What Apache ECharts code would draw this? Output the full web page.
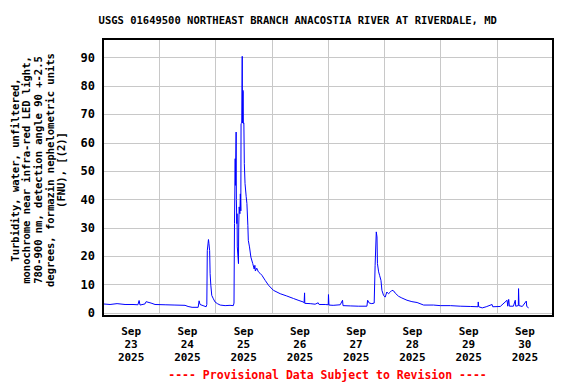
<!DOCTYPE html>
<html>
<head>
<meta charset="utf-8">
<script src="https://cdn.jsdelivr.net/npm/echarts@6/dist/echarts.min.js"></script>
<style>html,body{margin:0;padding:0;background:#fff}#c{width:576px;height:384px}</style>
</head>
<body>
<div id="c"></div>
<script>
// Hours since 2025-09-23 00:00
const hours = [
 0, 3.0, 6.0, 9.4, 12.8, 14.9, 15.4, 15.8, 17.9, 18.4, 19.2, 20.5, 22.2, 26.5, 30.7, 35.0, 36.3, 38.0, 40.6, 41.0, 41.4, 42.7, 44.0,
 44.3, 44.5, 45.0, 45.2, 45.5, 45.7, 46.0, 46.4, 47.1, 47.8, 48.8, 50.0, 52.1, 54.2, 55.6, 55.9,
 56.1, 56.4, 56.5, 56.8, 56.9, 57.1, 57.2, 57.3, 57.8, 57.9, 58.1, 58.4, 58.6, 58.8, 58.9, 59.2, 59.4, 59.5, 59.7, 59.8, 59.9, 60.1,
 60.3, 60.6, 61.1, 61.4, 61.8, 62.0, 62.5, 63.1, 63.9, 64.5, 64.8, 65.0, 65.6, 66.3, 67.0, 67.8, 69.2, 70.6, 72.7, 75.6, 78.4, 81.3,
 83.6, 85.4, 85.8, 86.0, 86.1, 88.4, 90.5, 91.8, 92.2, 94.8, 96.1, 96.2, 96.4, 98.2, 101.2, 102.2, 102.4, 105.5, 108.9, 112.6,
 112.9, 113.6, 114.7, 115.7, 116.1, 116.6, 116.9, 117.1, 117.6, 118.0, 118.6, 119.0, 119.7, 120.4, 121.1, 121.8, 122.6, 123.3, 124.0,
 124.7, 126.1, 127.5, 129.7, 131.8, 134.0, 136.8, 141.0, 143.9, 148.2, 152.4, 156.7, 160.0, 160.1, 160.3, 161.8, 163.5, 166.0, 166.3,
 169.5, 172.4, 172.7, 173.1, 173.4, 175.1, 175.9, 176.1, 177.2, 177.3, 177.5, 178.9, 180.6, 180.8, 181.6
];
// Turbidity, FNU
const turbidity = [
 3.2, 3.0, 3.3, 3.0, 3.0, 2.9, 4.4, 2.8, 3.2, 4.0, 3.8, 3.5, 3.0, 2.9, 2.8, 2.7, 2.3, 2.0, 2.0, 4.3, 3.0, 2.6, 2.2,
 3.0, 22.0, 25.9, 24.5, 22.0, 13.9, 9.8, 6.2, 5.0, 3.9, 3.3, 2.8, 2.6, 2.7, 2.6, 3.5,
 31.5, 54.4, 45.0, 63.8, 40.0, 31.5, 35.0, 23.3, 17.4, 30.0, 37.4, 35.0, 42.0, 36.0, 66.8, 67.0, 90.5, 67.0, 78.5, 78.0, 66.8, 67.0,
 52.7, 45.6, 41.0, 38.6, 30.9, 25.6, 23.3, 19.7, 17.4, 15.5, 16.8, 14.8, 15.8, 14.5, 14.0, 13.3, 11.5, 9.8, 8.0, 6.8, 6.0, 5.1,
 4.4, 3.9, 3.6, 7.1, 3.4, 3.3, 3.1, 3.6, 3.0, 3.0, 2.9, 6.5, 2.8, 2.7, 2.9, 4.5, 2.6, 2.5, 2.4, 2.4,
 4.5, 3.5, 3.3, 3.5, 16.8, 28.6, 26.8, 17.4, 14.5, 13.3, 11.5, 8.0, 6.2, 5.6, 7.4, 6.8, 7.4, 8.0, 7.8,
 7.0, 5.9, 5.3, 4.5, 4.0, 3.7, 2.8, 2.8, 2.6, 2.6, 2.4, 2.3, 2.2, 3.9, 2.2, 1.8, 2.2, 3.0, 2.2,
 2.3, 4.5, 2.4, 4.8, 2.4, 2.4, 4.5, 2.4, 2.6, 8.6, 2.6, 2.3, 4.2, 2.3, 1.8
];
const dayLabels = ['Sep\n23\n2025','Sep\n24\n2025','Sep\n25\n2025','Sep\n26\n2025','Sep\n27\n2025','Sep\n28\n2025','Sep\n29\n2025','Sep\n30\n2025'];
const titleText = 'USGS 01649500 NORTHEAST BRANCH ANACOSTIA RIVER AT RIVERDALE, MD';
const yName = 'Turbidity, water, unfiltered,\nmonochrome near infra-red LED light,\n780-900 nm, detection angle 90 +-2.5\ndegrees, formazin nephelometric units\n(FNU), [(2)]';
const footer = '---- Provisional Data Subject to Revision ----';

const FONT = '"DejaVu Sans Mono", "Liberation Mono", monospace';
const chart = echarts.init(document.getElementById('c'), null, {renderer: 'svg'});
chart.setOption({
  animation: false,
  backgroundColor: '#fff',
  grid: {left: 103, right: 23, top: 39, bottom: 71, show: false},
  xAxis: [{
    type: 'value', min: 0, max: 192, interval: 24, position: 'top',
    axisLine: {show: false}, axisTick: {show: false}, axisLabel: {show: false},
    splitLine: {show: true, lineStyle: {color: '#c8c8c8', width: 1}}
  }, {
    type: 'category', data: dayLabels, position: 'bottom', boundaryGap: true,
    axisLine: {show: false}, axisTick: {show: false}, splitLine: {show: false},
    axisLabel: {margin: 12, color: '#000', fontFamily: FONT, fontWeight: 'bold', fontSize: 11, lineHeight: 13, interval: 0}
  }],
  yAxis: {
    type: 'value', min: 0, max: 96.6, interval: 10,
    axisLine: {show: false}, axisTick: {show: false},
    axisLabel: {margin: 8, color: '#000', fontFamily: FONT, fontWeight: 'bold', fontSize: 12, showMaxLabel: false},
    splitLine: {show: true, lineStyle: {color: '#c8c8c8', width: 1}}
  },
  series: [{
    type: 'line', xAxisIndex: 0,
    data: hours.map((h, i) => [h, turbidity[i]]),
    showSymbol: false, symbol: 'none',
    lineStyle: {color: '#0000ff', width: 1},
    z: 3
  }],
  graphic: [
    {type: 'rect', z: 10, silent: true, shape: {x: 103, y: 39, width: 450, height: 277},
     style: {fill: 'none', stroke: '#000', lineWidth: 2}},
    {type: 'text', z: 10, x: 297.7, y: 20,
     style: {text: titleText, align: 'center', verticalAlign: 'middle', fill: '#000', font: 'bold 10.5px ' + FONT}},
    {type: 'text', z: 10, x: 38, y: 170, rotation: Math.PI / 2,
     style: {text: yName, align: 'center', verticalAlign: 'middle', fill: '#000', font: 'bold 10.5px ' + FONT, lineHeight: 11.7}},
    {type: 'text', z: 10, x: 327.5, y: 375,
     style: {text: footer, align: 'center', verticalAlign: 'middle', fill: '#ff0000', font: 'bold 11.5px ' + FONT}}
  ]
});
</script>
</body>
</html>
